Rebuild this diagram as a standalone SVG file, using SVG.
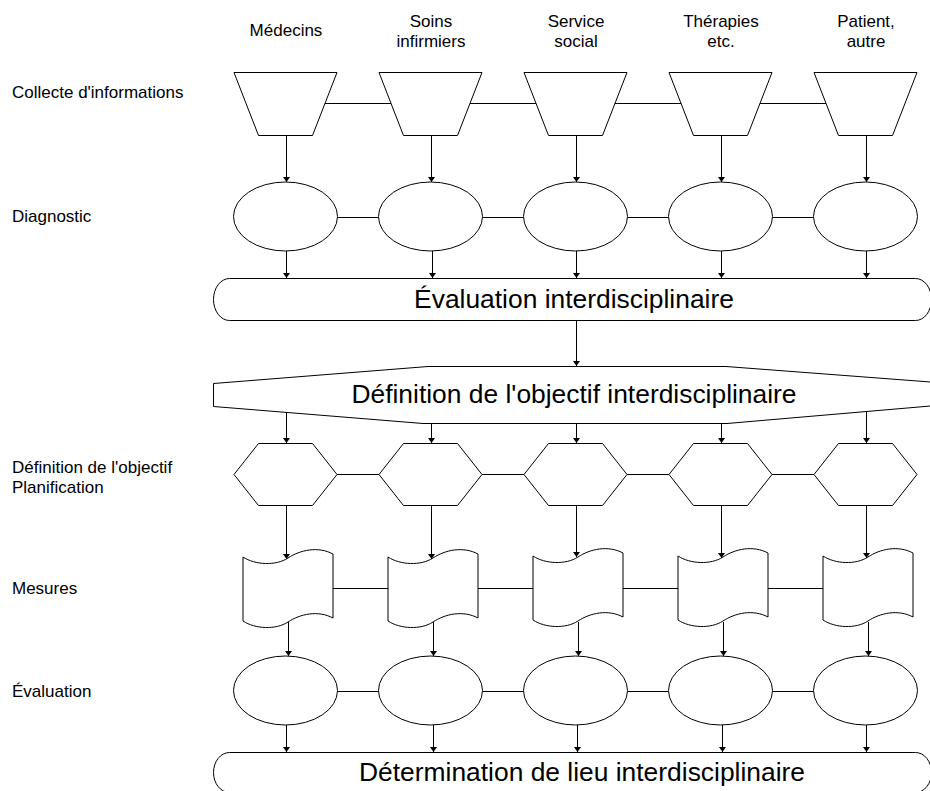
<svg xmlns="http://www.w3.org/2000/svg" xmlns:xlink="http://www.w3.org/1999/xlink" width="930" height="791" viewBox="0 0 930 791">
  <style>
    .shape { fill: #ffffff; stroke: #000000; stroke-width: 1; }
    .line { fill: none; stroke: #000000; stroke-width: 1; }
    .arrow { fill: none; stroke: #000000; stroke-width: 1; marker-end: url(#head); }
    .lbl { font-family: "Liberation Sans", Arial, sans-serif; font-size: 17px; fill: #000000; }
    .hdr { font-family: "Liberation Sans", Arial, sans-serif; font-size: 17px; fill: #000000; text-anchor: middle; }
    .big { font-family: "Liberation Sans", Arial, sans-serif; font-size: 26.4px; fill: #000000; text-anchor: middle; }
  </style>
  <defs>
    <marker id="head" viewBox="0 0 5 7" refX="5" refY="3.5" markerWidth="5" markerHeight="7" markerUnits="userSpaceOnUse" orient="auto">
      <path d="M0,0 L5,3.5 L0,7 Z" fill="#000000"/>
    </marker>
    <!-- manual input (information gathering) -->
    <polygon id="trap" class="shape" points="-51.5,-31.5 51.5,-31.5 27,31.5 -27,31.5"/>
    <!-- preparation hexagon -->
    <polygon id="hex" class="shape" points="-27,-31 27,-31 51.5,0 27,31 -27,31 -51.5,0"/>
    <!-- punched tape (measures) -->
    <path id="tape" class="shape" d="M-45,-32 C-33,-24 -12,-23 0,-31 C12,-39 30,-43 45,-35 L45,29 C30,21 12,25 0,33 C-12,41 -33,40 -45,32 Z"/>
    <ellipse id="oval" class="shape" cx="0" cy="0" rx="52" ry="34.5"/>
  </defs>

  <!-- row labels -->
  <g id="row-labels">
    <text class="lbl" x="12" y="98">Collecte d'informations</text>
    <text class="lbl" x="12" y="222">Diagnostic</text>
    <text class="lbl" x="12" y="473">Définition de l'objectif</text>
    <text class="lbl" x="12" y="493">Planification</text>
    <text class="lbl" x="12" y="594">Mesures</text>
    <text class="lbl" x="12" y="697">Évaluation</text>
  </g>

  <!-- column headers -->
  <g id="col-headers">
    <text class="hdr" x="286" y="36">Médecins</text>
    <text class="hdr" x="431" y="27">Soins</text>
    <text class="hdr" x="431" y="47">infirmiers</text>
    <text class="hdr" x="576" y="27">Service</text>
    <text class="hdr" x="576" y="47">social</text>
    <text class="hdr" x="721" y="27">Thérapies</text>
    <text class="hdr" x="721" y="47">etc.</text>
    <text class="hdr" x="866" y="27">Patient,</text>
    <text class="hdr" x="866" y="47">autre</text>
  </g>

  <!-- connectors -->
  <g id="connectors">
    <!-- horizontal links between columns -->
    <path class="line" d="M325,103.5 H391 M470,103.5 H536 M615,103.5 H681 M760,103.5 H826"/>
    <path class="line" d="M337.5,217.5 H378.5 M482.5,217.5 H523.5 M627.5,217.5 H668.5 M772.5,217.5 H813.5"/>
    <path class="line" d="M337,474.5 H379 M482,474.5 H524 M627,474.5 H669 M772,474.5 H814"/>
    <path class="line" d="M333,588.5 H388 M478,588.5 H533 M623,588.5 H678 M768,588.5 H823"/>
    <path class="line" d="M337.5,691.5 H378.5 M482.5,691.5 H523.5 M627.5,691.5 H668.5 M772.5,691.5 H813.5"/>

    <!-- collecte -> diagnostic -->
    <line class="arrow" x1="286.5" y1="135.5" x2="286.5" y2="182"/>
    <line class="arrow" x1="431.5" y1="135.5" x2="431.5" y2="182"/>
    <line class="arrow" x1="576.5" y1="135.5" x2="576.5" y2="182"/>
    <line class="arrow" x1="721.5" y1="135.5" x2="721.5" y2="182"/>
    <line class="arrow" x1="866.5" y1="135.5" x2="866.5" y2="182"/>

    <!-- diagnostic -> évaluation interdisciplinaire -->
    <line class="arrow" x1="286.5" y1="251" x2="286.5" y2="278"/>
    <line class="arrow" x1="432.5" y1="251" x2="432.5" y2="278"/>
    <line class="arrow" x1="576.5" y1="251" x2="576.5" y2="278"/>
    <line class="arrow" x1="721.5" y1="251" x2="721.5" y2="278"/>
    <line class="arrow" x1="866.5" y1="251" x2="866.5" y2="278"/>

    <!-- évaluation -> définition de l'objectif interdisciplinaire -->
    <line class="arrow" x1="576.5" y1="320.5" x2="576.5" y2="366"/>

    <!-- définition interdisciplinaire -> définition par discipline -->
    <line class="arrow" x1="286.5" y1="412.4" x2="286.5" y2="443"/>
    <line class="arrow" x1="431.5" y1="423.5" x2="431.5" y2="443"/>
    <line class="arrow" x1="576.5" y1="423.5" x2="576.5" y2="443"/>
    <line class="arrow" x1="721.5" y1="423.5" x2="721.5" y2="443"/>
    <line class="arrow" x1="866.5" y1="411.5" x2="866.5" y2="443"/>

    <!-- planification -> mesures -->
    <line class="arrow" x1="286.5" y1="505.5" x2="286.5" y2="559"/>
    <line class="arrow" x1="431.5" y1="505.5" x2="431.5" y2="559"/>
    <line class="arrow" x1="576.5" y1="505.5" x2="576.5" y2="557"/>
    <line class="arrow" x1="721.5" y1="505.5" x2="721.5" y2="558"/>
    <line class="arrow" x1="866.5" y1="505.5" x2="866.5" y2="558"/>

    <!-- mesures -> évaluation -->
    <line class="arrow" x1="288.5" y1="622" x2="288.5" y2="656"/>
    <line class="arrow" x1="433.5" y1="622" x2="433.5" y2="656"/>
    <line class="arrow" x1="578.5" y1="622" x2="578.5" y2="656"/>
    <line class="arrow" x1="723.5" y1="622" x2="723.5" y2="656"/>
    <line class="arrow" x1="868.5" y1="622" x2="868.5" y2="656"/>

    <!-- évaluation -> détermination de lieu -->
    <line class="arrow" x1="286.5" y1="725" x2="286.5" y2="752"/>
    <line class="arrow" x1="433.5" y1="725" x2="433.5" y2="752"/>
    <line class="arrow" x1="577.5" y1="725" x2="577.5" y2="752"/>
    <line class="arrow" x1="722.5" y1="725" x2="722.5" y2="752"/>
    <line class="arrow" x1="866.5" y1="725" x2="866.5" y2="752"/>
  </g>

  <!-- information gathering -->
  <g id="collecte-medecins"><use xlink:href="#trap" x="285.5" y="104"/></g>
  <g id="collecte-soins"><use xlink:href="#trap" x="430.5" y="104"/></g>
  <g id="collecte-social"><use xlink:href="#trap" x="575.5" y="104"/></g>
  <g id="collecte-therapies"><use xlink:href="#trap" x="720.5" y="104"/></g>
  <g id="collecte-patient"><use xlink:href="#trap" x="865.5" y="104"/></g>

  <!-- diagnostic -->
  <g id="diag-medecins"><use xlink:href="#oval" x="285.5" y="216.5"/></g>
  <g id="diag-soins"><use xlink:href="#oval" x="430.5" y="216.5"/></g>
  <g id="diag-social"><use xlink:href="#oval" x="575.5" y="216.5"/></g>
  <g id="diag-therapies"><use xlink:href="#oval" x="720.5" y="216.5"/></g>
  <g id="diag-patient"><use xlink:href="#oval" x="865.5" y="216.5"/></g>

  <g id="evaluation-interdisciplinaire">
    <rect class="shape" x="213.5" y="278.5" width="718" height="42" rx="16" ry="21"/>
    <text class="big" x="574" y="308">Évaluation interdisciplinaire</text>
  </g>

  <g id="definition-interdisciplinaire">
    <polygon class="shape" points="213.5,383.5 428,366.5 726,366.5 930.5,382 930.5,406 727,423.5 423,423.5 213.5,406.5"/>
    <text class="big" x="574" y="403">Définition de l'objectif interdisciplinaire</text>
  </g>

  <!-- goal definition / planning -->
  <g id="plan-medecins"><use xlink:href="#hex" x="285.5" y="474.5"/></g>
  <g id="plan-soins"><use xlink:href="#hex" x="430.5" y="474.5"/></g>
  <g id="plan-social"><use xlink:href="#hex" x="575.5" y="474.5"/></g>
  <g id="plan-therapies"><use xlink:href="#hex" x="720.5" y="474.5"/></g>
  <g id="plan-patient"><use xlink:href="#hex" x="865.5" y="474.5"/></g>

  <!-- measures -->
  <g id="mesures-medecins"><use xlink:href="#tape" x="288" y="589"/></g>
  <g id="mesures-soins"><use xlink:href="#tape" x="433" y="589"/></g>
  <g id="mesures-social"><use xlink:href="#tape" x="578" y="588"/></g>
  <g id="mesures-therapies"><use xlink:href="#tape" x="723" y="588"/></g>
  <g id="mesures-patient"><use xlink:href="#tape" x="868" y="588"/></g>

  <!-- evaluation -->
  <g id="eval-medecins"><use xlink:href="#oval" x="285.5" y="690.5"/></g>
  <g id="eval-soins"><use xlink:href="#oval" x="430.5" y="690.5"/></g>
  <g id="eval-social"><use xlink:href="#oval" x="575.5" y="690.5"/></g>
  <g id="eval-therapies"><use xlink:href="#oval" x="720.5" y="690.5"/></g>
  <g id="eval-patient"><use xlink:href="#oval" x="865.5" y="690.5"/></g>

  <g id="determination-lieu">
    <rect class="shape" x="213.5" y="752.5" width="718" height="40" rx="16" ry="20"/>
    <text class="big" x="582" y="781">Détermination de lieu interdisciplinaire</text>
  </g>
</svg>
